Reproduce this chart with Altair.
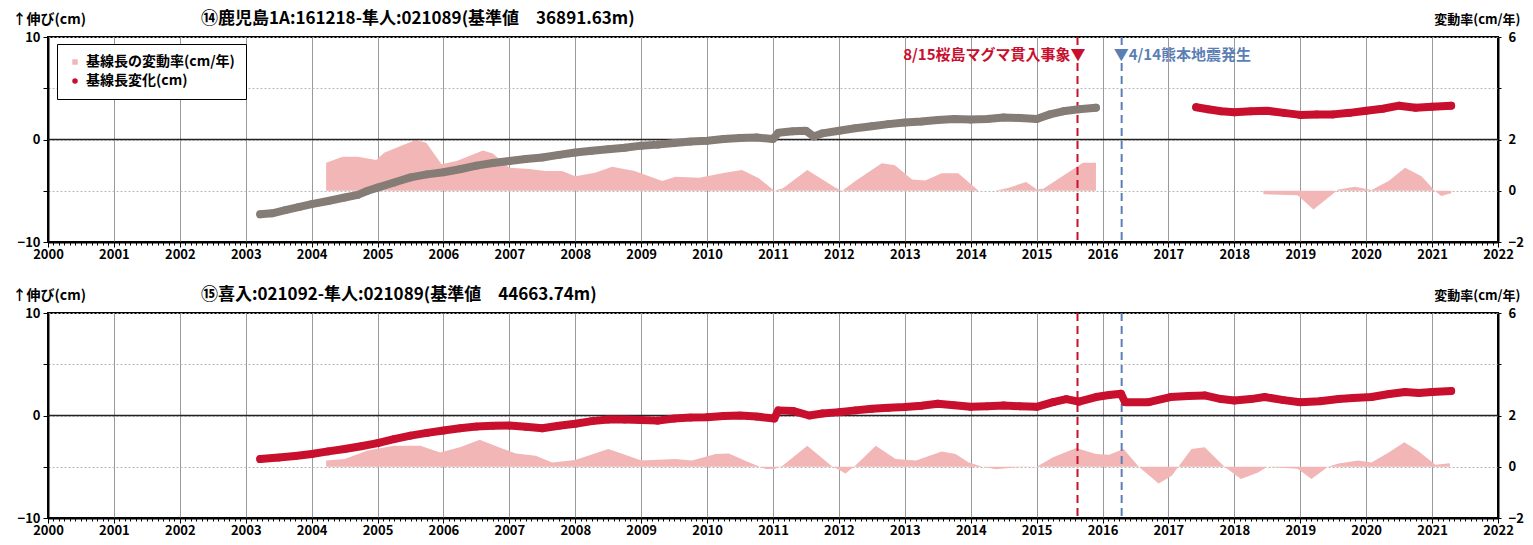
import altair as alt
import pandas as pd

FONT = "Noto Sans CJK JP"
PINK = "#f2b6b6"
RED = "#c8102e"
GRAY = "#857c76"
BLUE = "#5b7fb5"

TITLE_14 = "⑭鹿児島1A:161218-隼人:021089(基準値　36891.63m)"
TITLE_15 = "⑮喜入:021092-隼人:021089(基準値　44663.74m)"
LEFT_TITLE = "↑伸び(cm)"
RIGHT_TITLE = "変動率(cm/年)"
RATE_LABEL = "基線長の変動率(cm/年)"
CHANGE_LABEL = "基線長変化(cm)"

YEARS = list(range(2000, 2023))
LEFT_TICKS = [-10, -5, 0, 5, 10]
RIGHT_TICKS = [-2, 0, 2, 4, 6]

EVENT_T = [2015.62, 2016.29]
EVENT_LABEL = ["8/15桜島マグマ貫入事象▼", "▼4/14熊本地震発生"]
EVENT_TEXT_Y = 8.2

# ---- panel 14: baseline change (cm), gray part (before 2016)
p14_gray_t = [2003.22, 2003.4, 2003.6, 2003.8, 2004.0, 2004.25, 2004.5, 2004.7, 2004.85, 2005.0,
              2005.25, 2005.5, 2005.75, 2006.0, 2006.25, 2006.5, 2006.75, 2007.0, 2007.25, 2007.5,
              2007.75, 2008.0, 2008.25, 2008.5, 2008.75, 2009.0, 2009.25, 2009.5, 2009.75, 2010.0,
              2010.25, 2010.5, 2010.75, 2011.0, 2011.08, 2011.3, 2011.5, 2011.62, 2011.75, 2012.0,
              2012.25, 2012.5, 2012.75, 2013.0, 2013.25, 2013.5, 2013.75, 2014.0, 2014.25, 2014.5,
              2014.75, 2015.0, 2015.2, 2015.4, 2015.64, 2015.9]
p14_gray_v = [-7.3, -7.2, -6.9, -6.6, -6.3, -6.0, -5.66, -5.4, -5.0, -4.7,
              -4.2, -3.7, -3.4, -3.2, -2.9, -2.55, -2.3, -2.1, -1.9, -1.75,
              -1.5, -1.27, -1.1, -0.95, -0.8, -0.6, -0.5, -0.35, -0.2, -0.13,
              0.05, 0.15, 0.2, 0.05, 0.65, 0.8, 0.85, 0.3, 0.6, 0.85,
              1.1, 1.3, 1.5, 1.65, 1.75, 1.9, 2.0, 1.95, 2.0, 2.15,
              2.1, 2.0, 2.45, 2.75, 2.95, 3.1]
# red part (after 2017)
p14_red_t = [2017.42, 2017.6, 2017.8, 2018.0, 2018.25, 2018.5, 2018.75, 2019.0, 2019.25,
             2019.5, 2019.75, 2020.0, 2020.25, 2020.5, 2020.75, 2021.0, 2021.29]
p14_red_v = [3.15, 2.95, 2.75, 2.65, 2.75, 2.8, 2.6, 2.4, 2.45,
             2.45, 2.6, 2.8, 3.0, 3.3, 3.1, 3.2, 3.3]

# panel 14: rate of change (cm/yr), two segments
p14_rate1_t = [2004.22, 2004.47, 2004.7, 2004.98, 2005.1, 2005.35, 2005.58, 2005.74, 2005.97, 2006.2,
               2006.6, 2006.75, 2007.0, 2007.3, 2007.55, 2007.8, 2008.0, 2008.3, 2008.56, 2008.9,
               2009.32, 2009.52, 2009.88, 2010.27, 2010.53, 2010.78, 2011.02, 2011.15, 2011.52, 2011.95,
               2012.05, 2012.25, 2012.65, 2012.85, 2013.11, 2013.31, 2013.56, 2013.81, 2014.12, 2014.37,
               2014.58, 2014.84, 2015.0, 2015.1, 2015.64, 2015.7, 2015.9]
p14_rate1_v = [1.09, 1.33, 1.33, 1.2, 1.48, 1.75, 1.98, 1.87, 1.03, 1.16,
               1.57, 1.45, 0.9, 0.85, 0.77, 0.77, 0.57, 0.7, 0.94, 0.77,
               0.38, 0.55, 0.51, 0.7, 0.81, 0.5, 0.0, 0.1, 0.81, 0.12,
               0.0, 0.38, 1.07, 1.0, 0.44, 0.4, 0.68, 0.68, 0.0, 0.0,
               0.12, 0.34, 0.06, 0.08, 0.99, 1.09, 1.09]
p14_rate2_t = [2018.44, 2018.96, 2019.2, 2019.53, 2019.58, 2019.83, 2020.08, 2020.34, 2020.59,
               2020.84, 2021.04, 2021.14, 2021.29]
p14_rate2_v = [-0.14, -0.18, -0.73, -0.05, 0.05, 0.16, 0.03, 0.38, 0.9,
               0.57, 0.0, -0.2, -0.1]

# ---- panel 15: baseline change (cm)
p15_t = [2003.22, 2003.5, 2003.75, 2004.0, 2004.25, 2004.5, 2004.75, 2005.0, 2005.25, 2005.5,
         2005.75, 2006.0, 2006.25, 2006.5, 2006.75, 2007.0, 2007.25, 2007.5, 2007.75, 2008.0,
         2008.25, 2008.5, 2008.75, 2009.0, 2009.25, 2009.5, 2009.75, 2010.0, 2010.25, 2010.5,
         2010.75, 2011.02, 2011.08, 2011.3, 2011.55, 2011.75, 2012.0, 2012.25, 2012.5, 2012.75,
         2013.0, 2013.25, 2013.5, 2013.75, 2014.0, 2014.25, 2014.5, 2014.75, 2015.0, 2015.25,
         2015.45, 2015.64, 2015.9, 2016.1, 2016.28, 2016.34, 2016.7, 2017.03, 2017.3, 2017.55,
         2017.8, 2018.0, 2018.25, 2018.46, 2018.75, 2019.0, 2019.3, 2019.58, 2019.8, 2020.08,
         2020.35, 2020.59, 2020.8, 2021.0, 2021.29]
p15_v = [-4.25, -4.1, -3.95, -3.76, -3.5, -3.27, -3.0, -2.7, -2.3, -1.96,
         -1.7, -1.47, -1.25, -1.08, -1.0, -0.98, -1.1, -1.25, -1.0, -0.8,
         -0.55, -0.4, -0.4, -0.45, -0.5, -0.3, -0.2, -0.16, -0.05, 0.0,
         -0.1, -0.3, 0.5, 0.45, 0.0, 0.2, 0.33, 0.5, 0.65, 0.75,
         0.82, 0.95, 1.15, 1.0, 0.85, 0.9, 0.98, 0.9, 0.85, 1.3,
         1.6, 1.35, 1.8, 2.0, 2.13, 1.3, 1.3, 1.8, 1.9, 1.96,
         1.6, 1.47, 1.6, 1.8, 1.5, 1.3, 1.4, 1.6, 1.7, 1.8,
         2.1, 2.3, 2.2, 2.3, 2.4]
# panel 15: rate of change (cm/yr)
p15_rate_t = [2004.22, 2004.5, 2004.85, 2005.25, 2005.65, 2005.95, 2006.25, 2006.55, 2006.9, 2007.1,
              2007.4, 2007.65, 2008.0, 2008.5, 2008.8, 2009.0, 2009.52, 2009.77, 2010.13, 2010.33,
              2010.64, 2010.89, 2011.02, 2011.15, 2011.52, 2011.88, 2012.1, 2012.25, 2012.56, 2012.86,
              2013.17, 2013.56, 2013.77, 2013.97, 2014.18, 2014.38, 2014.7, 2015.0, 2015.25, 2015.6,
              2015.9, 2016.1, 2016.32, 2016.55, 2016.85, 2017.05, 2017.15, 2017.35, 2017.55, 2017.85,
              2018.1, 2018.36, 2018.5, 2018.77, 2018.96, 2019.17, 2019.42, 2019.58, 2019.88, 2020.08,
              2020.34, 2020.58, 2020.8, 2021.05, 2021.27]
p15_rate_v = [0.24, 0.3, 0.63, 0.82, 0.82, 0.56, 0.76, 1.05, 0.7, 0.52,
              0.43, 0.17, 0.26, 0.69, 0.43, 0.24, 0.3, 0.24, 0.5, 0.52,
              0.17, -0.09, -0.09, 0.05, 0.82, 0.05, -0.26, 0.05, 0.82, 0.3,
              0.24, 0.6, 0.5, 0.17, 0.0, -0.1, -0.02, 0.0, 0.37, 0.73,
              0.5, 0.47, 0.69, 0.0, -0.65, -0.35, 0.0, 0.69, 0.76, 0.0,
              -0.48, -0.22, 0.0, -0.05, -0.08, -0.48, 0.0, 0.13, 0.24, 0.17,
              0.56, 0.96, 0.6, 0.08, 0.14]

# ------------------------------------------------------------------
MONTHS = [round(2000 + m / 12, 4) for m in range(22 * 12 + 1)]
IS_YEAR = "abs(datum.value - round(datum.value)) < 0.001"

x_scale = alt.Scale(domain=[2000, 2022], nice=False, zero=False)
x_axis = alt.Axis(
    values=MONTHS,
    labelExpr=f"{IS_YEAR} ? format(round(datum.value), 'd') : ''",
    labelOverlap=False, labelFlush=False, labelPadding=1, labelFontSize=13,
    tickSize={"condition": {"test": IS_YEAR, "value": 5}, "value": 3},
    grid=True,
    gridOpacity={"condition": {"test": IS_YEAR, "value": 1}, "value": 0},
    gridColor="#9a9a9a", gridWidth=1,
    title=None,
)
yl_scale = alt.Scale(domain=[-10, 10], nice=False, zero=False)
yl_axis = alt.Axis(
    values=LEFT_TICKS, orient="left",
    labelExpr="datum.value % 10 == 0 ? datum.label : ''",
    grid=True, gridColor="#b8b8b8", gridDash=[2, 2], tickSize=5, labelPadding=3,
    title=LEFT_TITLE, titleAngle=0, titleAlign="left", titleBaseline="middle",
    titleX=-36, titleY=-18, titleFontSize=14,
)
yr_scale = alt.Scale(domain=[-2, 6], nice=False, zero=True)
yr_axis = alt.Axis(
    values=RIGHT_TICKS, orient="right",
    labelExpr="datum.value == 4 ? '' : datum.label",
    grid=False, tickSize=3, labelPadding=7,
    title=RIGHT_TITLE, titleAngle=0, titleAlign="right", titleBaseline="middle",
    titleX=22, titleY=-18,
)


def X(field="t"):
    return alt.X(f"{field}:Q", scale=x_scale, axis=x_axis)


def rate_layers(segments):
    layers = []
    for ts, vs in segments:
        df = pd.DataFrame({"t": ts, "r": vs})
        layers.append(
            alt.Chart(df).mark_area(color=PINK, opacity=1, interpolate="linear").encode(
                x=X(),
                y=alt.Y("r:Q", scale=yr_scale, axis=yr_axis, stack=None),
            )
        )
    return alt.layer(*layers)


def series_layers(ts, vs, color):
    df = pd.DataFrame({"t": ts, "v": vs})
    base = alt.Chart(df).encode(
        x=X(),
        y=alt.Y("v:Q", scale=yl_scale, axis=yl_axis),
    )
    line = base.mark_line(color=color, strokeWidth=8, strokeCap="round", strokeJoin="round")
    pts = base.mark_circle(color=color, size=60, opacity=1)
    return [line, pts]


def common_layers():
    zero = alt.Chart(pd.DataFrame({"z": [0]})).mark_rule(color="#222222", strokeWidth=1.3).encode(
        y=alt.Y("z:Q", scale=yl_scale, axis=yl_axis)
    )
    ev = pd.DataFrame({"t": EVENT_T, "c": [RED, BLUE]})
    rules = alt.Chart(ev).mark_rule(strokeDash=[8, 5], strokeWidth=2).encode(
        x=X(),
        color=alt.Color("c:N", scale=None),
    )
    return [zero, rules]


def event_texts():
    df1 = pd.DataFrame({"t": [EVENT_T[0]], "y": [EVENT_TEXT_Y], "label": [EVENT_LABEL[0]]})
    df2 = pd.DataFrame({"t": [EVENT_T[1]], "y": [EVENT_TEXT_Y], "label": [EVENT_LABEL[1]]})
    common = dict(font=FONT, fontWeight="bold", fontSize=15, baseline="middle")
    t1 = alt.Chart(df1).mark_text(align="right", dx=8, color=RED, **common).encode(
        x=X(),
        y=alt.Y("y:Q", scale=yl_scale, axis=yl_axis),
        text="label:N",
    )
    t2 = alt.Chart(df2).mark_text(align="left", dx=-8, color=BLUE, **common).encode(
        x=X(),
        y=alt.Y("y:Q", scale=yl_scale, axis=yl_axis),
        text="label:N",
    )
    return [t1, t2]


def legend_layer():
    df = pd.DataFrame({"s": [RATE_LABEL, CHANGE_LABEL]})
    leg = alt.Legend(
        title=None, orient="none", legendX=9, legendY=7,
        fillColor="white", strokeColor="black", padding=11,
        labelFont=FONT, labelFontWeight="bold", labelFontSize=14, labelColor="black",
        symbolSize=30, symbolOpacity=1, symbolStrokeWidth=0, rowPadding=5, labelOffset=4,
    )
    return alt.Chart(df).mark_point(filled=True, opacity=0).encode(
        color=alt.Color("s:N", scale=alt.Scale(domain=[RATE_LABEL, CHANGE_LABEL], range=[PINK, RED]), legend=leg),
        shape=alt.Shape("s:N", scale=alt.Scale(domain=[RATE_LABEL, CHANGE_LABEL], range=["square", "circle"]), legend=leg),
    )


def make_title(text):
    return alt.Title(text, anchor="start", frame="group", dx=153, offset=-16,
                     font=FONT, fontSize=17, fontWeight="bold", color="black")


# panel 14
left14 = alt.layer(
    *common_layers(),
    *series_layers(p14_gray_t, p14_gray_v, GRAY),
    *series_layers(p14_red_t, p14_red_v, RED),
    *event_texts(),
    legend_layer(),
)
panel14 = alt.layer(
    rate_layers([(p14_rate1_t, p14_rate1_v), (p14_rate2_t, p14_rate2_v)]), left14
).resolve_scale(y="independent").properties(width=1450, height=205, title=make_title(TITLE_14))

# panel 15
left15 = alt.layer(
    *common_layers(),
    *series_layers(p15_t, p15_v, RED),
)
panel15 = alt.layer(
    rate_layers([(p15_rate_t, p15_rate_v)]), left15
).resolve_scale(y="independent").properties(width=1450, height=205, title=make_title(TITLE_15))

chart = alt.vconcat(panel14, panel15, spacing=23).properties(
    padding={"left": 3, "top": 1, "right": 0, "bottom": 0},
    background="white",
).configure_view(
    stroke="black", strokeWidth=2
).configure_axis(
    labelFont=FONT, labelFontWeight="bold", labelFontSize=13, labelColor="black",
    titleFont=FONT, titleFontWeight="bold", titleFontSize=13, titleColor="black",
    domainColor="black", domainWidth=2, tickColor="black",
)

chart.save("out.html", embed_options={"renderer": "svg", "actions": False})
